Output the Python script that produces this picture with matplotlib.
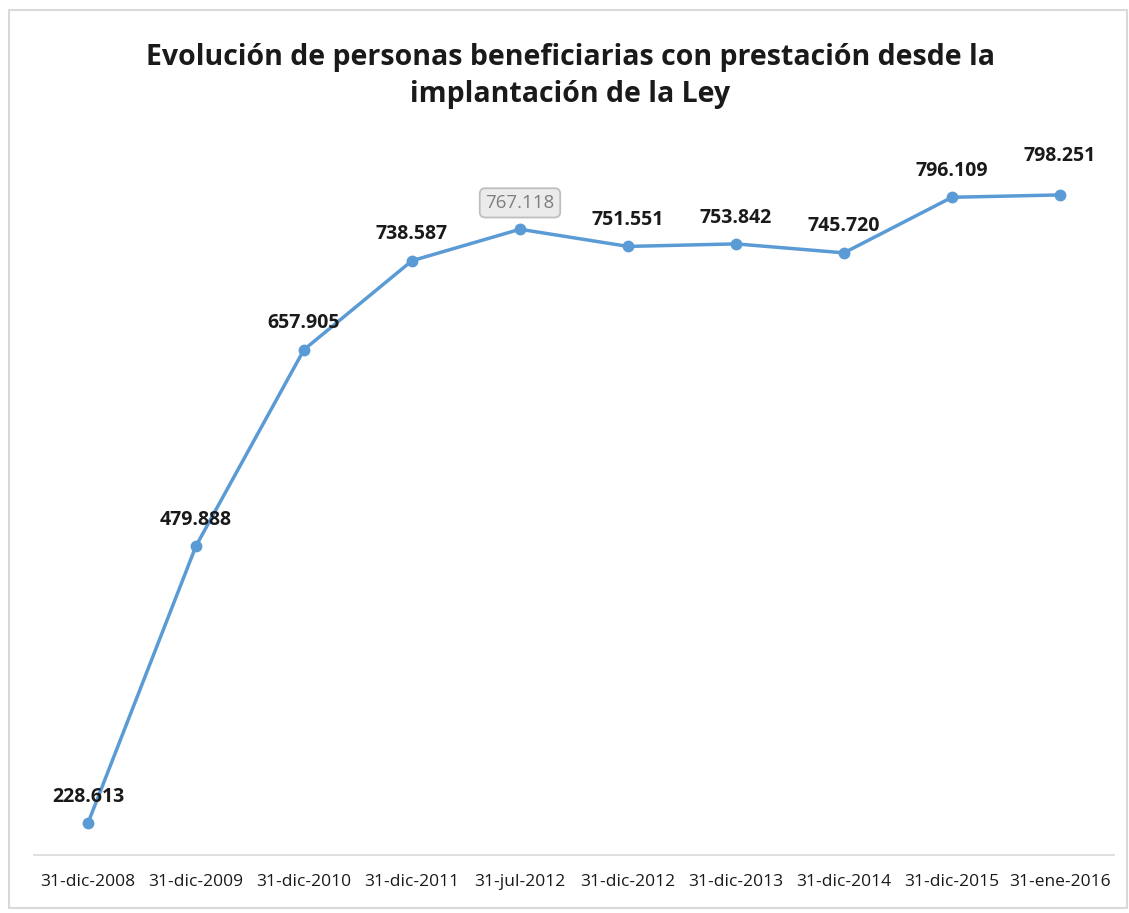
import matplotlib
matplotlib.use("Agg")
import matplotlib.pyplot as plt
from matplotlib.patches import Rectangle

# datos
fechas = ["31-dic-2008", "31-dic-2009", "31-dic-2010", "31-dic-2011", "31-jul-2012",
          "31-dic-2012", "31-dic-2013", "31-dic-2014", "31-dic-2015", "31-ene-2016"]
beneficiarios = [228613, 479888, 657905, 738587, 767118,
                 751551, 753842, 745720, 796109, 798251]
etiquetas = ["228.613", "479.888", "657.905", "738.587", "767.118",
             "751.551", "753.842", "745.720", "796.109", "798.251"]

plt.rcParams['font.family'] = ['Open Sans', 'DejaVu Sans']

fig = plt.figure(figsize=(11.29, 9.13), dpi=100)
ax = fig.add_axes([0.0301, 0.0640, 0.9566, 0.785])

x = list(range(len(fechas)))
ax.plot(x, beneficiarios, color="#5B9BD5", linewidth=2.5, marker="o", markersize=7.5)

for i, (v, t) in enumerate(zip(beneficiarios, etiquetas)):
    dy = 28 if i == 9 else 19
    if i == 4:
        ax.annotate(t, (i, v), xytext=(0, dy), textcoords="offset points",
                    ha="center", va="center", fontsize=13.5, color="#7F7F7F",
                    bbox=dict(boxstyle="round,pad=0.3", fc="#EBEBEB", ec="#BFBFBF", lw=1.3))
    else:
        ax.annotate(t, (i, v), xytext=(0, dy), textcoords="offset points",
                    ha="center", va="center", fontsize=14, fontweight="bold",
                    color="#1A1A1A")

ax.set_xlim(-0.5, 9.5)
ax.set_ylim(200000, 850000)
ax.set_xticks(x)
ax.set_xticklabels(fechas, fontsize=12.5, color="#1A1A1A")
ax.tick_params(axis="x", length=0, pad=14)
ax.set_yticks([])
for s in ["top", "right", "left"]:
    ax.spines[s].set_visible(False)
ax.spines["bottom"].set_color("#D9D9D9")
ax.spines["bottom"].set_linewidth(1.2)

fig.text(0.505, 0.917, "Evolución de personas beneficiarias con prestación desde la\nimplantación de la Ley",
         ha="center", va="center", fontsize=20.5, fontweight="bold", color="#1A1A1A",
         linespacing=1.35)

fig.patches.append(Rectangle((0.008, 0.006), 0.99, 0.983, transform=fig.transFigure,
                             fill=False, ec="#D9D9D9", lw=1.5))

fig.savefig("out.png", dpi=100)
